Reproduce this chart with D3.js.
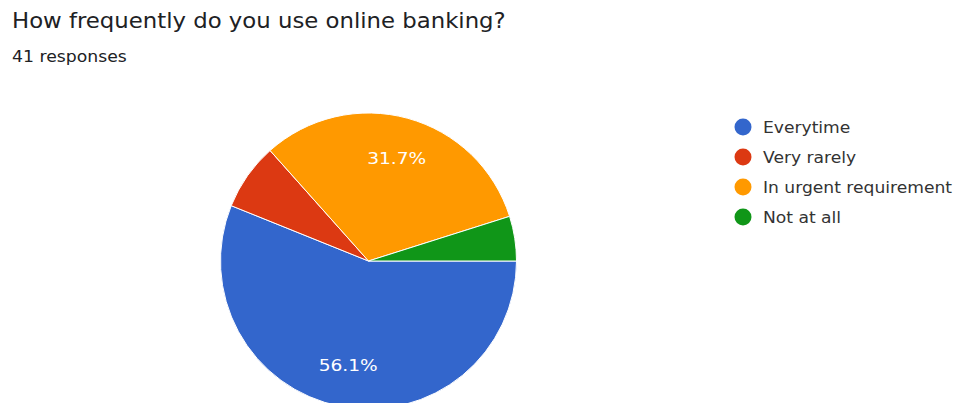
<!DOCTYPE html>
<html>
<head>
<meta charset="utf-8">
<script src="https://cdn.jsdelivr.net/npm/d3@7"></script>
<style>
  html, body { margin: 0; padding: 0; background: #fff; }
  svg { display: block; font-family: "DejaVu Sans", Verdana, sans-serif; }
</style>
</head>
<body>
<svg id="chart" width="958" height="403"></svg>
<script>
// Survey answers: "How frequently do you use online banking?"
const categories = ["Everytime", "Very rarely", "In urgent requirement", "Not at all"];
const counts = [23, 3, 13, 2];
const colors = ["#3366cc", "#dc3912", "#ff9900", "#109618"];
const titleText = "How frequently do you use online banking?";
const subtitleText = "41 responses";

const svg = d3.select("#chart");
const W = 958, H = 403;
svg.append("rect").attr("width", W).attr("height", H).attr("fill", "#fff");

// Widen text runs a little so the lettering has the broad look of the form font
function widen(sel, k) {
  sel.each(function () {
    const len = this.getComputedTextLength();
    d3.select(this).attr("textLength", len * k).attr("lengthAdjust", "spacingAndGlyphs");
  });
}

// Heading
svg.append("text")
  .attr("x", 12).attr("y", 28)
  .attr("font-size", 21)
  .attr("fill", "#202124")
  .text(titleText)
  .call(widen, 1.085);
svg.append("text")
  .attr("x", 12).attr("y", 62)
  .attr("font-size", 15)
  .attr("fill", "#202124")
  .text(subtitleText)
  .call(widen, 1.15);

// Pie
const cx = 368.5, cy = 261, R = 148;
const total = d3.sum(counts);
const data = categories.map((c, i) => ({ name: c, value: counts[i], color: colors[i] }));

const pie = d3.pie()
  .value(d => d.value)
  .sort(null)
  .startAngle(Math.PI / 2)
  .endAngle(Math.PI / 2 + 2 * Math.PI);

const arc = d3.arc().innerRadius(0).outerRadius(R);
const labelArc = d3.arc().innerRadius(R * 0.72).outerRadius(R * 0.72);

const g = svg.append("g").attr("transform", `translate(${cx},${cy})`);
const arcs = pie(data);

g.selectAll("path.slice")
  .data(arcs)
  .join("path")
  .attr("class", "slice")
  .attr("d", arc)
  .attr("fill", d => d.data.color)
  .attr("stroke", "#fff")
  .attr("stroke-width", 1);

const fmt = d => (d.data.value / total * 100).toFixed(1) + "%";
g.selectAll("text.pct")
  .data(arcs.filter(d => d.data.value / total >= 0.1))
  .join("text")
  .attr("class", "pct")
  .attr("transform", d => `translate(${labelArc.centroid(d)})`)
  .attr("text-anchor", "middle")
  .attr("dy", "0.35em")
  .attr("font-size", 15.5)
  .attr("fill", "#fff")
  .text(fmt)
  .call(widen, 1.2);

// Legend
const legend = svg.append("g").attr("transform", "translate(743,127)");
const item = legend.selectAll("g")
  .data(data)
  .join("g")
  .attr("transform", (d, i) => `translate(0,${i * 30})`);
item.append("circle")
  .attr("r", 8.5)
  .attr("fill", d => d.color);
item.append("text")
  .attr("x", 20)
  .attr("dy", "0.35em")
  .attr("font-size", 16)
  .attr("fill", "#333")
  .text(d => d.name)
  .call(widen, 1.07);
</script>
</body>
</html>
